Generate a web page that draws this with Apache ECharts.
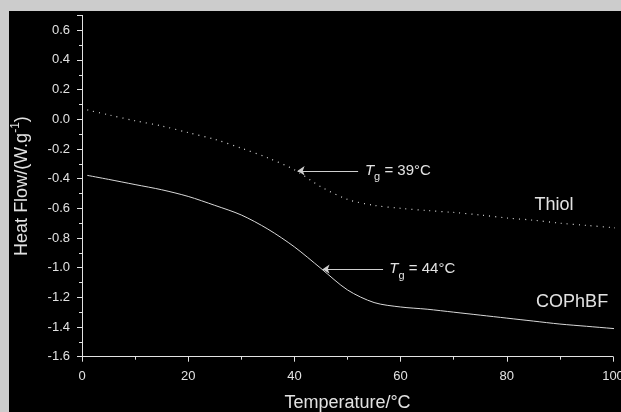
<!DOCTYPE html>
<html><head><meta charset="utf-8">
<script src="https://cdn.jsdelivr.net/npm/echarts@6/dist/echarts.min.js"></script>
<style>html,body{margin:0;padding:0;background:#cccccc;}#c{width:621px;height:412px;}</style>
</head><body><div id="c"></div>
<script>
// Data
const temps   = [1, 5, 10, 15, 20, 25, 30, 35, 40, 45, 50, 55, 60, 65, 70, 75, 80, 85, 90, 95, 100, 101.5];
const thiol   = [0.063, 0.03, -0.01, -0.045, -0.09, -0.135, -0.195, -0.26, -0.34, -0.455, -0.54, -0.58, -0.60, -0.615, -0.628, -0.645, -0.665, -0.68, -0.70, -0.715, -0.73, -0.735];
const cophbf  = [-0.378, -0.405, -0.44, -0.475, -0.52, -0.58, -0.645, -0.74, -0.86, -1.005, -1.15, -1.235, -1.265, -1.28, -1.30, -1.32, -1.34, -1.36, -1.38, -1.395, -1.41, -1.415];
const xTicks  = [0, 20, 40, 60, 80, 100];
const yTicks  = [-1.6, -1.4, -1.2, -1.0, -0.8, -0.6, -0.4, -0.2, 0.0, 0.2, 0.4, 0.6];
const tgThiol = {value: 39, arrowFrom: [52, -0.347], arrowTo: [40.6, -0.347], text: [53, -0.347]};
const tgCop   = {value: 44, arrowFrom: [56.7, -1.01], arrowTo: [45.3, -1.01], text: [57.6, -1.01]};
const seriesLabels = [{name: 'Thiol', at: [88.9, -0.578]}, {name: 'COPhBF', at: [92.3, -1.231]}];

const fg = '#e2e2e2';
const font = 'Liberation Sans, Arial, sans-serif';
const chart = echarts.init(document.getElementById('c'));
const tgRich = {
  t: {fontStyle: 'italic', fontSize: 15, color: fg, fontFamily: font, lineHeight: 24, verticalAlign: 'middle'},
  g: {fontSize: 11, color: fg, fontFamily: font, lineHeight: 24, verticalAlign: 'bottom'},
  n: {fontSize: 15, color: fg, fontFamily: font, lineHeight: 24, verticalAlign: 'middle'}
};
function tgMark(tg) {
  return {
    symbol: 'none', animation: false, silent: true,
    lineStyle: {color: '#cfcfcf', width: 1, type: 'solid'},
    symbolSize: 7,
    label: {show: false},
    data: [[{coord: tg.arrowFrom, symbol: 'none'}, {coord: tg.arrowTo, symbol: 'arrow'}]]
  };
}
function tgPoint(tg, extra) {
  const pts = [{coord: tg.text, label: {show: true, position: 'right', distance: 1,
      formatter: '{t|T}{g|g}{n| = ' + tg.value + '°C}', rich: tgRich}}];
  extra.forEach(e => pts.push({coord: e.at, label: {show: true, position: 'inside',
      formatter: e.name, color: fg, fontSize: 18, fontFamily: font}}));
  return {symbol: 'circle', symbolSize: 1, itemStyle: {color: 'rgba(0,0,0,0)'},
          silent: true, animation: false, data: pts};
}
chart.setOption({
  backgroundColor: 'transparent',
  animation: false,
  graphic: [{type: 'rect', z: -10, silent: true, shape: {x: 9, y: 11, width: 612, height: 401}, style: {fill: '#000000'}}],
  grid: {left: 82, right: 8, top: 15.4, bottom: 55.3, containLabel: false, outerBoundsMode: 'none'},
  xAxis: {
    type: 'value', min: 0, max: 100, interval: 20,
    axisLine: {onZero: false, lineStyle: {color: fg, width: 1}},
    axisTick: {show: true, inside: false, length: 5, lineStyle: {color: fg}},
    minorTick: {show: true, splitNumber: 2, length: 3, lineStyle: {color: fg}},
    splitLine: {show: false},
    axisLabel: {color: fg, fontSize: 13, fontFamily: font, margin: 13,
      formatter: v => xTicks.includes(v) ? String(v) : ''},
    name: 'Temperature/°C', nameLocation: 'middle', nameGap: 37,
    nameTextStyle: {color: fg, fontSize: 18, fontFamily: font}
  },
  yAxis: {
    type: 'value', min: -1.6, max: 0.7, interval: 0.2,
    axisLine: {show: true, onZero: false, lineStyle: {color: fg, width: 1}},
    axisTick: {show: true, inside: false, length: 5, lineStyle: {color: fg}},
    minorTick: {show: true, splitNumber: 2, length: 3, lineStyle: {color: fg}},
    splitLine: {show: false},
    axisLabel: {color: fg, fontSize: 13, fontFamily: font, margin: 12,
      formatter: v => yTicks.some(t => Math.abs(t - v) < 1e-6) ? v.toFixed(1) : ''},
    name: 'Heat Flow/(W.g{sup|-1})', nameLocation: 'middle', nameGap: 48,
    nameTextStyle: {color: fg, fontSize: 18, fontFamily: font,
      rich: {sup: {fontSize: 12, color: fg, fontFamily: font, verticalAlign: 'top', lineHeight: 24}}}
  },
  series: [
    {name: 'Thiol', type: 'line', data: temps.map((t, i) => [t, thiol[i]]),
     showSymbol: false, smooth: 0.3, clip: false,
     lineStyle: {color: '#d8d8d8', width: 1.2, type: [1, 5]},
     markLine: tgMark(tgThiol), markPoint: tgPoint(tgThiol, [seriesLabels[0]])},
    {name: 'COPhBF', type: 'line', data: temps.map((t, i) => [t, cophbf[i]]),
     showSymbol: false, smooth: 0.3, clip: false,
     lineStyle: {color: '#d8d8d8', width: 1},
     markLine: tgMark(tgCop), markPoint: tgPoint(tgCop, [seriesLabels[1]])}
  ]
});
</script></body></html>
